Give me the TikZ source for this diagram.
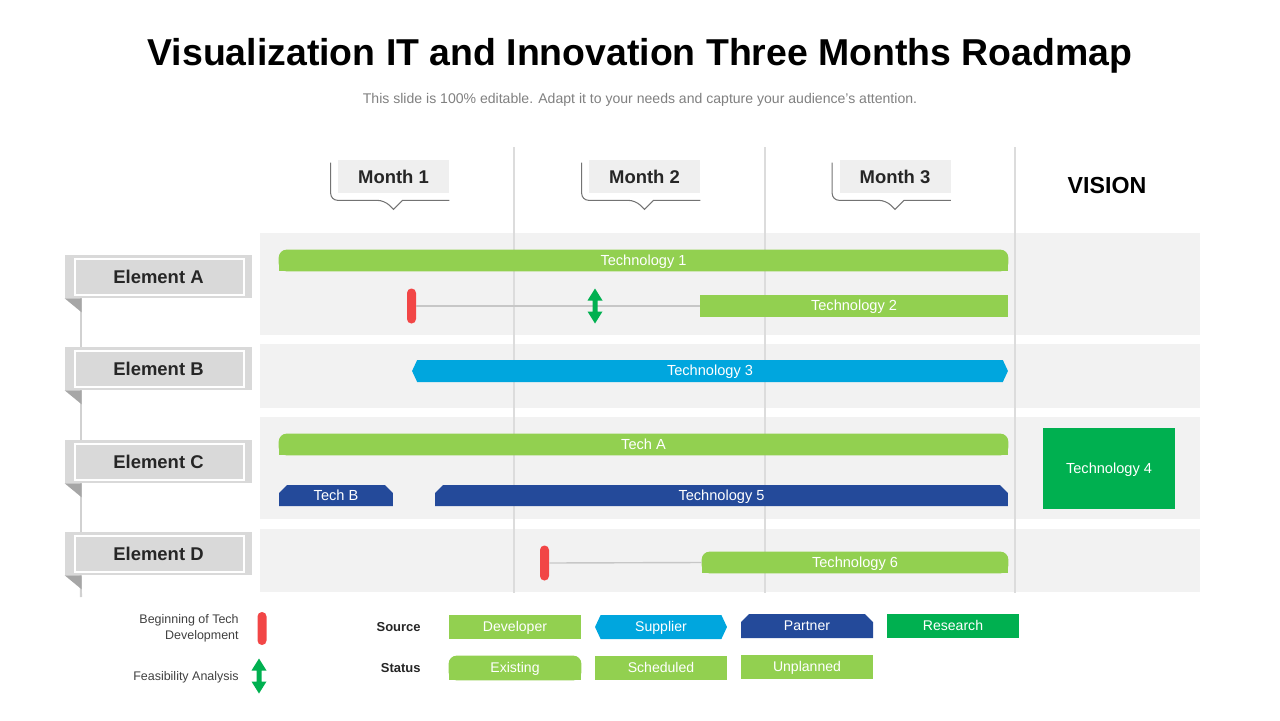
\documentclass[tikz,border=0pt]{standalone}
\usepackage{fontspec}
\setmainfont{Liberation Sans}
\usetikzlibrary{calc,backgrounds,shapes.misc,shapes.symbols}

\definecolor{lgreen}{HTML}{92D050}
\definecolor{dgreen}{HTML}{00B050}
\definecolor{sblue}{HTML}{00A6DE}
\definecolor{pblue}{HTML}{244A9A}
\definecolor{mred}{HTML}{F24646}
\definecolor{rowbg}{HTML}{F2F2F2}
\definecolor{gridc}{HTML}{DCDCDC}
\definecolor{elemc}{HTML}{D9D9D9}
\definecolor{foldc}{HTML}{A6A6A6}
\definecolor{monthc}{HTML}{EFEFEF}
\definecolor{txt}{HTML}{262626}

\tikzset{
  feas/.pic={\fill[dgreen] (0,-17.5) -- (7.5,-5.5) -- (2.5,-5.5) -- (2.5,5.5) -- (7.5,5.5) -- (0,17.5)
    -- (-7.5,5.5) -- (-2.5,5.5) -- (-2.5,-5.5) -- (-7.5,-5.5) -- cycle;}
}

\begin{document}
\begin{tikzpicture}[x=0.02cm, y=-0.02cm,
  bar/.style={rectangle, inner sep=0pt, text=white, font=\fontsize{8.3}{10}\selectfont, minimum height=0.42cm,
    text height=6pt, text depth=0.4pt},
  sched/.style={bar, fill=lgreen},
  exist/.style={bar},
  supp/.style={bar, signal, signal to=west and east, signal pointer angle=130, fill=sblue},
  partn/.style={bar, chamfered rectangle, chamfered rectangle corners={north west,north east},
    chamfered rectangle xsep=0.08cm, chamfered rectangle ysep=0.08cm, fill=pblue},
  resrch/.style={bar, fill=dgreen},
  legbox/.style={minimum width=2.64cm, minimum height=0.48cm, font=\fontsize{8}{10}\selectfont,
    text height=5.8pt, text depth=0.4pt},
  marker/.style={rectangle, fill=mred, rounded corners=2.5pt, minimum width=0.18cm, minimum height=0.7cm, inner sep=0pt},
  month/.style={rectangle, fill=monthc, minimum width=2.22cm, minimum height=0.66cm, text=txt,
    font=\fontsize{10.5}{12}\bfseries},
  callout/.style={draw=black!55, line width=0.6pt},
  elem/.style={rectangle, fill=elemc, minimum width=3.74cm, minimum height=0.86cm, text=txt,
    font=\fontsize{10.5}{12}\bfseries,
    path picture={\draw[white, line width=0.8pt] ([shift={(10,4)}]path picture bounding box.north west)
      rectangle ([shift={(-8,-3)}]path picture bounding box.south east);}},
  stem/.style={draw=black!18, line width=1.2pt},
  link/.style={draw=black!22, line width=0.8pt},
  legtext/.style={anchor=east, align=right, inner sep=0pt, text=black!75, font=\fontsize{7.1}{9}\selectfont},
  legtitle/.style={anchor=east, inner sep=0pt, text=txt, font=\fontsize{7.4}{9}\bfseries}
]
  \useasboundingbox (0,0) rectangle (1280,720);

  % Heading
  \node[font=\fontsize{21.3}{25}\bfseries] (title) at (640,56) {Visualization IT and Innovation Three Months Roadmap};
  \node[text=black!50, font=\fontsize{8}{10}\selectfont] (sub) at (640,100) {This slide is 100\% editable. Adapt it to your needs and capture your audience's attention.};

  % Months
  \foreach \i/\x in {1/393.5, 2/644.5, 3/895} {
    \node[month] (m\i) at (\x,176.5) {Month \i};
    \draw[callout] ($(m\i.north west)+(-7,3)$) [rounded corners=4pt] -- ($(m\i.south west)+(-7,7)$)
      -- ($(m\i.south)+(-9,7)$) [sharp corners] -- ($(m\i.south)+(0,16)$) -- ($(m\i.south)+(9,7)$)
      -- ($(m\i.south east)+(0,7)$);
  }
  \node[font=\fontsize{13.2}{15}\bfseries] (vision) at (1107,186) {VISION};

  % Elements
  \node[elem] (ea) at (158.5,276.5) {Element A};
  \node[elem] (eb) at (158.5,368.5) {Element B};
  \node[elem] (ec) at (158.5,461.5) {Element C};
  \node[elem] (ed) at (158.5,553.5) {Element D};
  \coordinate (eend) at (81,597);
  \foreach \a/\b in {ea/eb, eb/ec, ec/ed}
    \draw[stem] ($(\a.south west)+(16,0)$) -- ($(\b.north west)+(16,0)$);
  \draw[stem] ($(ed.south west)+(16,0)$) -- (eend);
  \foreach \a in {ea,eb,ec,ed}
    \fill[foldc] (\a.south west) -- ($(\a.south west)+(17,0)$) -- ($(\a.south west)+(17,14)$) -- cycle;

  % Bars
  \node[exist, minimum width=14.58cm] (t1) at (643.5,260.5) {Technology 1};
  \node[marker] (r1) at (411.5,306) {};
  \node[sched, minimum width=6.16cm, minimum height=0.44cm] (t2) at (854,306) {Technology 2};
  \node[supp, minimum width=11.92cm, minimum height=0.44cm] (t3) at (710,371) {Technology 3};
  \node[exist, minimum width=14.58cm] (ta) at (643.5,444.5) {Tech A};
  \node[partn, minimum width=2.28cm] (tb) at (336,495.5) {Tech B};
  \node[partn, minimum width=11.46cm] (t5) at (721.5,495.5) {Technology 5};
  \node[resrch, minimum width=2.64cm, minimum height=1.62cm] (t4) at (1109,468.5) {Technology 4};
  \node[marker] (r2) at (544.5,563) {};
  \node[exist, minimum width=6.12cm] (t6) at (855,562.5) {Technology 6};
  \draw[link] (r1.east) -- (t2.west);
  \draw[link] (r2.east) -- (t6.west);
  \pic at (595,306) {feas};

  % Legend
  \node[legtext] (lbeg) at (239,628) {Beginning of Tech\\Development};
  \node[marker, minimum height=0.66cm] (r3) at (262,628.5) {};
  \node[legtext] (lfeas) at (239,677) {Feasibility Analysis};
  \pic at (259,676) {feas};
  \node[legtitle] (lsrc) at (421,627) {Source};
  \node[legtitle] (lsta) at (421,668) {Status};
  \node[sched, legbox] (ldev) at (515,627) {Developer};
  \node[supp, legbox] (lsup) at (661,627) {Supplier};
  \node[partn, legbox] (lpar) at (807,626) {Partner};
  \node[resrch, legbox] (lres) at (953,626) {Research};
  \node[exist, legbox] (lexi) at (515,668) {Existing};
  \node[sched, legbox] (lsch) at (661,668) {Scheduled};
  \node[sched, legbox] (lunp) at (807,667) {Unplanned};

  % Rows, grid and rounded bars behind
  \begin{scope}[on background layer]
    \fill[rowbg] (260,233) rectangle (1200,335);
    \fill[rowbg] (260,344) rectangle (1200,408);
    \fill[rowbg] (260,417) rectangle (1200,519);
    \fill[rowbg] (260,529) rectangle (1200,592);
    \foreach \x in {514,765,1015}
      \draw[gridc, line width=0.6pt] (\x,147) -- (\x,593);
    \foreach \n in {t1,ta,t6,lexi} {
      \fill[lgreen, rounded corners=4.5pt] (\n.south west) rectangle (\n.north east);
      \fill[lgreen] (\n.south west) rectangle (\n.east);
    }
  \end{scope}
\end{tikzpicture}
\end{document}
